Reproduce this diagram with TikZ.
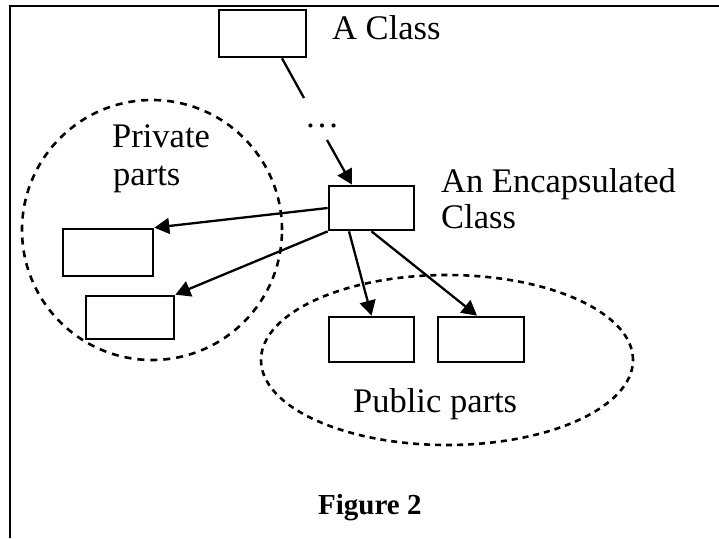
\documentclass[tikz,border=0pt]{standalone}
\usepackage{fontspec}
\setmainfont{Liberation Serif}
\usetikzlibrary{arrows.meta}
\begin{document}
\begin{tikzpicture}[x=1pt,y=-1pt,
  classbox/.style={draw,line width=2.7pt,rectangle,inner sep=0pt},
  conn/.style={line width=2.3pt},
  arr/.style={conn,-{Triangle[length=15pt,width=16pt]}},
  label/.style={anchor=base west,inner sep=0pt,font=\fontsize{34.5}{36}\selectfont},
  grp/.style={draw,line width=2.6pt,dash pattern=on 7pt off 6pt}]
\useasboundingbox (0,0) rectangle (719,538);
% frame
\draw[line width=2.2pt] (10,538) -- (10,6) -- (719,6);
% groups
\draw[grp] (152,230) ellipse [x radius=130pt, y radius=130pt];
\draw[grp,dash pattern=on 6pt off 5pt] (447,360) ellipse [x radius=186pt, y radius=85pt];
% boxes
\node[classbox,minimum width=87pt,minimum height=47pt] (a) at (262.5,33.5) {};
\node[classbox,minimum width=85pt,minimum height=44pt] (e) at (371.5,208) {};
\node[classbox,minimum width=90pt,minimum height=47pt] (p1) at (108,252.5) {};
\node[classbox,minimum width=88pt,minimum height=43pt] (p2) at (130,317.5) {};
\node[classbox,minimum width=85pt,minimum height=45pt] (u1) at (371.5,339.5) {};
\node[classbox,minimum width=86pt,minimum height=45pt] (u2) at (481,339.5) {};
% labels
\node[label] (la) at (332,39) {A Class};
\node[label] (lp1) at (112,147) {Private};
\node[label] (lp2) at (113,185) {parts};
\node[label] (le1) at (441,192) {An Encapsulated};
\node[label] (le2) at (441,228) {Class};
\node[label] (lu) at (353,412) {Public parts};
\node[anchor=base west,inner sep=0pt,font=\fontsize{29}{32}\selectfont\bfseries] (fig) at (318,514) {Figure 2};
\node[anchor=base,inner sep=0pt,font=\fontsize{34.5}{36}\selectfont] (dots) at (322,127) {…};
% connectors
\coordinate (d1) at (304,98);
\coordinate (d2) at (327,140);
\draw[conn] ([xshift=19.5pt]a.south) -- (d1);
\draw[arr] (d2) -- ([xshift=-19.5pt]e.north);
\draw[arr] (e.west) -- (p1.north east);
\draw[arr] (e.south west) -- (p2.north east);
\draw[arr] ([xshift=-22.5pt]e.south) -- (u1.north);
\draw[arr] (e.south) -- ([xshift=-4pt]u2.north);
\end{tikzpicture}
\end{document}
